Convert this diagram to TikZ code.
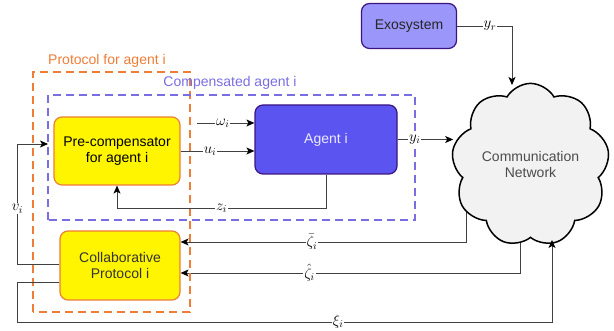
\RequirePackage{fix-cm}
\documentclass[tikz,border=0pt]{standalone}
\usepackage{fontspec}
\setmainfont{Liberation Sans}
\usetikzlibrary{arrows.meta,shapes.symbols,backgrounds}

\definecolor{exofill}{RGB}{155,150,250}
\definecolor{agentfill}{RGB}{92,84,240}
\definecolor{darkpurple}{RGB}{60,20,130}
\definecolor{yelfill}{RGB}{255,245,0}
\definecolor{orangeline}{RGB}{238,125,55}
\definecolor{blueline}{RGB}{120,110,225}
\definecolor{wire}{RGB}{65,65,65}

\tikzset{
  block/.style={draw, rounded corners=8pt, line width=1.2pt, align=center,
    font=\fontsize{14}{16}\selectfont},
  yelblock/.style={block, fill=yelfill, draw=orangeline},
  sig/.style={fill=white, inner sep=1pt, font=\fontsize{15}{17}\selectfont},
  wire/.style={draw=wire, line width=0.9pt},
  arr/.style={wire, -{Stealth[length=8pt,width=7pt,inset=2pt,color=black]}},
  frame/.style={line width=1.6pt, dash pattern=on 8pt off 5pt},
  framelabel/.style={font=\fontsize{14}{16}\selectfont, inner sep=0pt}
}

\begin{document}
\begin{tikzpicture}[x=1pt,y=1pt]
	\useasboundingbox (0,0) rectangle (614,331);
	\draw [frame, orangeline] (33,19) rectangle (190,259);
	\node [framelabel, text=orangeline] (plabel) at (107,270) {Protocol for agent i};
	\draw [frame, blueline] (48,111) rectangle (415,236);
	\node [framelabel, text=blueline] (clabel) at (230,248) {Compensated agent i};

	\node [block, fill=exofill, draw=darkpurple, text=black!85, minimum width=95pt, minimum height=45pt] (exo) at (409,305) {Exosystem};
	\node [yelblock, minimum width=126pt, minimum height=68pt] (pre) at (117,180) {Pre-compensator\\for agent i};
	\node [block, fill=agentfill, draw=darkpurple, text=white!92!blue, minimum width=142pt, minimum height=69pt] (agent) at (326,191.5) {Agent i};
	\node [yelblock, text=black!80, minimum width=120pt, minimum height=69pt] (col) at (120,65.5) {Collaborative\\Protocol i};
	\node [cloud, cloud puffs=9, cloud puff arc=120, aspect=0.95, draw=black, fill=black!5, line width=1.5pt,
		minimum width=152pt, minimum height=160pt, inner sep=0pt, align=center, text=black!70,
		font=\fontsize{14}{16}\selectfont] (net) at (530.5,166) {Communication\\Network};

	\coordinate (win) at (197,208);
	\coordinate (vin) at (48,187);
	\coordinate (zc) at (326,123);
	\coordinate (ytop) at (512,246);
	\coordinate (xtip) at (552,91);
	\coordinate (zb) at (466,140);
	\coordinate (zh) at (520,130);

	\draw [arr] (win) -- node[sig, pos=0.45] {$\omega_i$} (win -| agent.west);
	\draw [arr] (pre.east) -- node[sig, pos=0.4] {$u_i$} (pre.east -| agent.west);
	\draw [arr] (agent.east) -- node[sig, pos=0.31] {$y_i$} (agent.east -| net.west);
	\draw [arr] (exo.east) -| node[sig, pos=0.3] {$y_r$} (ytop);
	\draw [arr] (agent.south) -- (zc) -| node[sig, pos=0.25] {$z_i$} (pre.south);
	\draw [arr] ([yshift=1.5pt]col.west) -- ++(-42,0) |- node[sig, pos=0.23] {$v_i$} (vin);
	\draw [arr] ([yshift=-16.5pt]col.west) -- ++(-42,0) -- ++(0,-40) -| node[sig, pos=0.3] {$\xi_i$} (xtip);
	\begin{scope}[on background layer]
		\draw [arr] (zb) |- node[sig, pos=0.77] {$\bar{\zeta}_i$} ([yshift=23.5pt]col.east);
		\draw [arr] (zh) |- node[sig, pos=0.81] {$\hat{\zeta}_i$} ([yshift=-7.5pt]col.east);
	\end{scope}
\end{tikzpicture}
\end{document}
